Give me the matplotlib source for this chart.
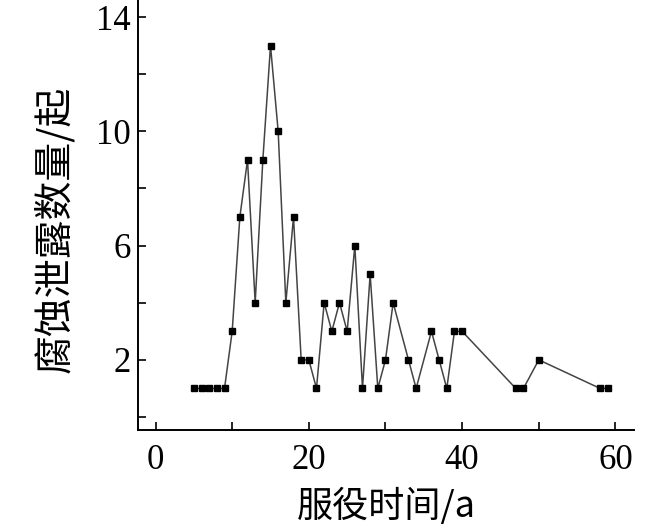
import matplotlib.pyplot as plt
from matplotlib.ticker import MultipleLocator

# service time (years) and number of corrosion leak events
years = [5, 6, 7, 8, 9, 10, 11, 12, 13, 14, 15, 16, 17, 18, 19, 20, 21, 22, 23, 24,
         25, 26, 27, 28, 29, 30, 31, 33, 34, 36, 37, 38, 39, 40, 47, 48, 50, 58, 59]
leaks = [1, 1, 1, 1, 1, 3, 7, 9, 4, 9, 13, 10, 4, 7, 2, 2, 1, 4, 3, 4,
         3, 6, 1, 5, 1, 2, 4, 2, 1, 3, 2, 1, 3, 3, 1, 1, 2, 1, 1]

x_major = [0, 20, 40, 60]
y_major = [2, 6, 10, 14]

plt.rcParams['font.family'] = ['Liberation Serif', 'Noto Sans CJK SC']

fig = plt.figure(figsize=(6.63, 5.3), dpi=100)
ax = fig.add_axes([0.208, 0.189, 0.748, 0.811])

ax.plot(years, leaks, color='#444444', lw=1.1, marker='s', ms=4.8,
        mfc='black', mec='black')

ax.set_xlim(-2.3, 62.4)
ax.set_ylim(-0.45, 14.6)
ax.set_xticks(x_major)
ax.set_yticks(y_major)
ax.xaxis.set_minor_locator(MultipleLocator(10))
ax.yaxis.set_minor_locator(MultipleLocator(2))

for s in ['top', 'right']:
    ax.spines[s].set_visible(False)
for s in ['left', 'bottom']:
    ax.spines[s].set_linewidth(1.4)

ax.tick_params(which='both', direction='in', length=6, width=1.2)
ax.tick_params(axis='x', labelsize=25, pad=10)
ax.tick_params(axis='y', labelsize=25, pad=5)

ax.set_xlabel('服役时间/a', fontsize=26, family=['Noto Sans CJK SC'], labelpad=8)
ax.set_ylabel('腐蚀泄露数量/起', fontsize=28, family=['Noto Sans CJK SC'],
              fontweight='medium')
ax.yaxis.set_label_coords(-0.125, 0.467)

fig.savefig('out.png', dpi=100)
